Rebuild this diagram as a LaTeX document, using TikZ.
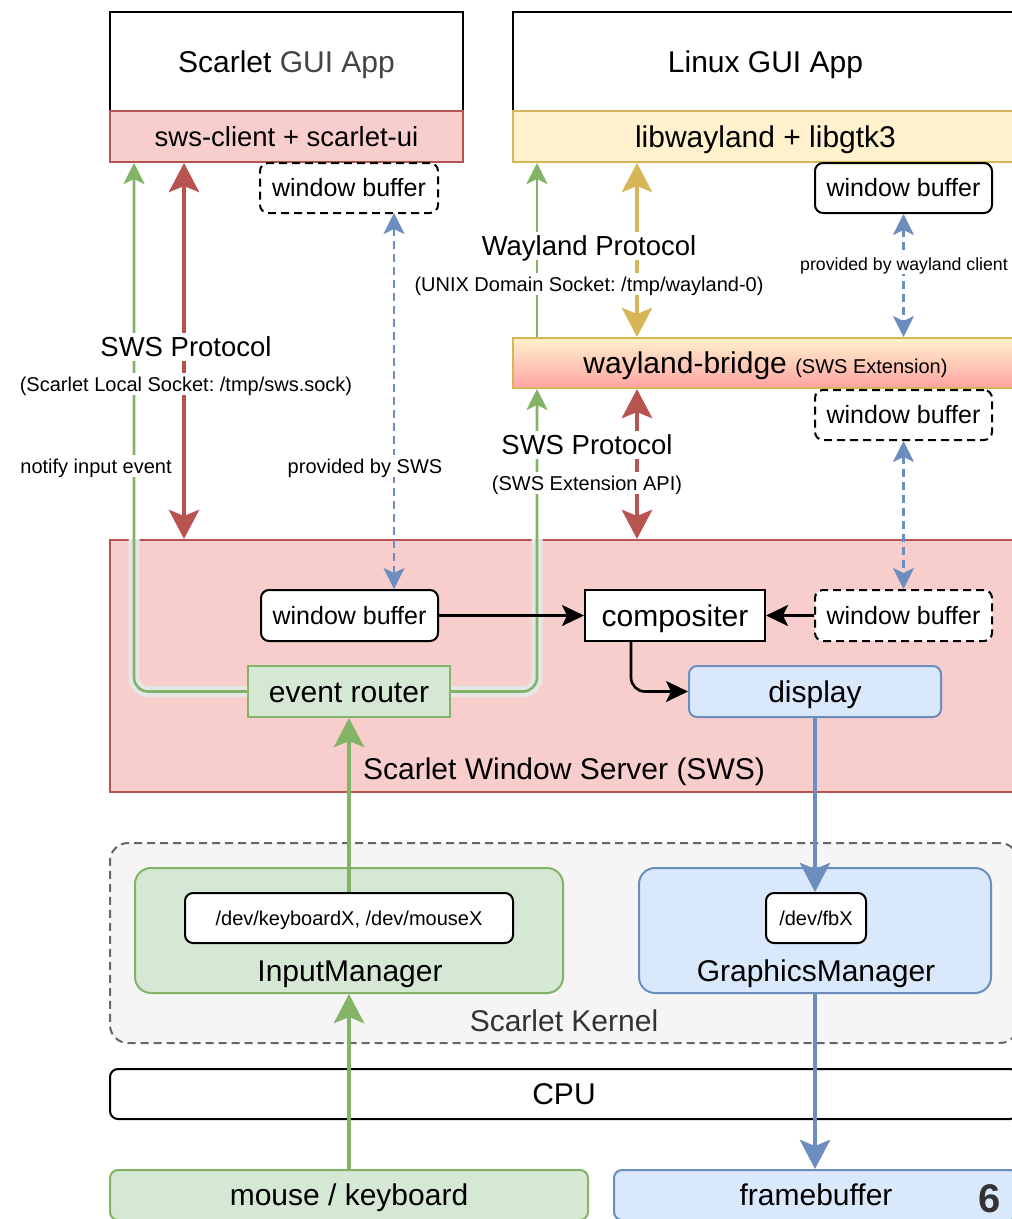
\documentclass[tikz,border=0pt]{standalone}
\usepackage{fontspec}
\setmainfont{Liberation Sans}
\frenchspacing
\usetikzlibrary{arrows.meta}
\definecolor{redF}{HTML}{F8CECC}
\definecolor{redS}{HTML}{B85450}
\definecolor{yelF}{HTML}{FFF2CC}
\definecolor{yelS}{HTML}{D6B656}
\definecolor{grnF}{HTML}{D5E8D4}
\definecolor{grnS}{HTML}{82B366}
\definecolor{bluF}{HTML}{DAE8FC}
\definecolor{bluS}{HTML}{6C8EBF}
\definecolor{gryF}{HTML}{F5F5F5}
\definecolor{gryS}{HTML}{666666}
\definecolor{gryT}{HTML}{333333}
\definecolor{gryA}{HTML}{444444}
\definecolor{pinkG}{HTML}{FFA3A3}
\definecolor{haloC}{HTML}{E6E6E6}
\tikzset{
  box/.style={draw, line width=2pt, inner sep=0pt, align=center},
  fsA/.style={font=\fontsize{30}{36}\selectfont, text height=21.5pt, text depth=0pt},
  fsB/.style={font=\fontsize{27.5}{33}\selectfont, text height=19.7pt, text depth=0pt},
  fsC/.style={font=\fontsize{25}{30}\selectfont, text height=17.9pt, text depth=0pt},
  fsD/.style={font=\fontsize{20}{24}\selectfont, text height=14.3pt, text depth=0pt},
  fsE/.style={font=\fontsize{17.7}{21}\selectfont, text height=12.7pt, text depth=0pt},
  wbuf/.style={box, fsC, rounded corners=8pt, fill=white, minimum width=177pt, minimum height=50pt},
  dashbox/.style={dash pattern=on 8pt off 5pt},
  lbl/.style={fill=white, inner xsep=2pt, inner ysep=4pt},
  tipS/.tip={Stealth[length=21pt,width=21pt,inset=5pt]},
  tipL/.tip={Stealth[length=29pt,width=30pt,inset=6pt]},
  tipK/.tip={Stealth[length=22pt,width=21pt,inset=5pt]},
  gthin/.style={draw=grnS, line width=2.6pt},
  halo/.style={draw=haloC, line width=11pt},
  thickR/.style={draw=redS, line width=4.8pt},
  thickY/.style={draw=yelS, line width=4.8pt},
  thickG/.style={draw=grnS, line width=4.8pt},
  thickB/.style={draw=bluS, line width=4.8pt},
  bdash/.style={draw=bluS, line width=2.4pt, dash pattern=on 8pt off 5pt},
  blk/.style={draw=black, line width=2.6pt},
}
\begin{document}
\begin{tikzpicture}[x=1pt,y=-1pt]
\useasboundingbox (0,0) rectangle (1012,1219);
\clip (0,0) rectangle (1012,1219);
\fill[white] (0,0) rectangle (1012,1219);

% ---- top applications
\node[box, fsA, fill=white, minimum width=353pt, minimum height=99pt] (app1) at (286.5,61.5) {Scarlet \textcolor{gryA}{GUI App}};
\node[box, fsB, fill=redF, draw=redS, minimum width=353pt, minimum height=51pt] (swsc) at (286.5,136.5) {sws-client + scarlet-ui};
\node[box, fsA, fill=white, minimum width=505pt, minimum height=99pt] (app2) at (765.5,61.5) {Linux GUI App};
\node[box, fsA, fill=yelF, draw=yelS, minimum width=505pt, minimum height=51pt] (lib) at (765.5,136.5) {libwayland + libgtk3};
\node[wbuf, dashbox, minimum width=178pt] (wbufA) at (349,188) {window buffer};
\node[wbuf] (wbufB) at (903.5,188) {window buffer};

% ---- wayland bridge
\node[box, fsA, top color=yelF, bottom color=pinkG, draw=yelS, minimum width=505pt, minimum height=50pt] (wb) at (765.5,363) {wayland-bridge {\fontsize{20}{24}\selectfont (SWS Extension)}};
\node[wbuf, dashbox] (wbufC) at (903.5,415) {window buffer};

% ---- SWS
\node[box, fill=redF, draw=redS, minimum width=908pt, minimum height=252pt] (sws) at (564,666) {};
\node[wbuf, minimum height=51pt] (wbufD) at (349.5,615.5) {window buffer};
\node[box, fsA, fill=white, minimum width=180pt, minimum height=51pt] (comp) at (675,615.5) {compositer};
\node[wbuf, dashbox, minimum height=51pt] (wbufE) at (903.5,615.5) {window buffer};
\node[box, fsA, fill=grnF, draw=grnS, minimum width=202pt, minimum height=51pt] (er) at (349,691.5) {event router};
\node[box, fsA, fill=bluF, draw=bluS, rounded corners=8pt, minimum width=252pt, minimum height=51pt] (disp) at (815,691.5) {display};
\node[fsA, inner sep=0pt] (swsT) at (564,769) {Scarlet Window Server (SWS)};

% ---- kernel
\node[box, draw=gryS, fill=gryF, dashbox, rounded corners=18pt, minimum width=908pt, minimum height=200pt] (kern) at (564,943) {};
\node[fsA, text=gryT, inner sep=0pt] (kernT) at (564,1021) {Scarlet Kernel};
\node[box, fill=grnF, draw=grnS, rounded corners=16pt, minimum width=428pt, minimum height=125pt] (im) at (349,930.5) {};
\node[fsA, inner sep=0pt] (imT) at (350,971) {InputManager};
\node[box, fsD, fill=white, rounded corners=8pt, minimum width=328pt, minimum height=50pt] (kbd) at (349,918) {/dev/keyboardX, /dev/mouseX};
\node[box, fill=bluF, draw=bluS, rounded corners=16pt, minimum width=352pt, minimum height=125pt] (gm) at (815,930.5) {};
\node[fsA, inner sep=0pt] (gmT) at (816,971) {GraphicsManager};
\node[box, fsD, fill=white, rounded corners=8pt, minimum width=100pt, minimum height=50pt] (fbx) at (816,918) {/dev/fbX};

% ---- hardware
\node[box, fsA, fill=white, rounded corners=8pt, minimum width=908pt, minimum height=50pt] (cpu) at (564,1094) {CPU};
\node[box, fsA, fill=grnF, draw=grnS, rounded corners=8pt, minimum width=478pt, minimum height=50pt] (mk) at (349,1195) {mouse / keyboard};
\node[box, fsA, fill=bluF, draw=bluS, rounded corners=8pt, minimum width=404pt, minimum height=50pt] (fbuf) at (816,1195) {framebuffer};

% ---- coordinates
\coordinate (gL) at ([xshift=25pt]swsc.south west);
\coordinate (gR) at ([xshift=25pt]wb.south west);
\coordinate (gT) at ([xshift=25pt]lib.south west);
\coordinate (rL) at ([xshift=75pt]swsc.south west);
\coordinate (rR) at ([xshift=125pt]wb.south west);
\coordinate (yT) at ([xshift=125pt]lib.south west);
\coordinate (bL) at (394,213);
\coordinate (cS) at (631,641);

% ---- halos
\draw[halo, rounded corners=14pt] (gL |- sws.north) |- (er.west);
\draw[halo, rounded corners=14pt] (gR |- sws.north) |- (er.east);

% ---- connectors
\draw[gthin, rounded corners=14pt, {tipS}-] (gL) |- (er.west);
\draw[gthin, rounded corners=14pt, {tipS}-] (gR) |- (er.east);
\draw[gthin, {tipS}-] (gT) -- (gT |- wb.north);
\draw[thickR, {tipL}-{tipL}] (rL) -- (rL |- sws.north);
\draw[thickR, {tipL}-{tipL}] (rR) -- (rR |- sws.north);
\draw[thickY, {tipL}-{tipL}] (yT) -- (yT |- wb.north);
\draw[bdash, {tipS}-{tipS}] (bL) -- (bL |- wbufD.north);
\draw[bdash, {tipS}-{tipS}] (wbufB.south) -- (wbufB.south |- wb.north);
\draw[bdash, {tipS}-{tipS}] (wbufC.south) -- (wbufC.south |- wbufE.north);
\draw[blk, -{tipK}] (wbufD.east) -- (comp.west);
\draw[blk, -{tipK}] (wbufE.west) -- (comp.east);
\draw[blk, rounded corners=14pt, -{tipK}] (cS) |- (disp.west);
\draw[thickG, -{tipL}] (kbd.north) -- (er.south);
\draw[thickG, -{tipL}] (mk.north) -- (im.south);
\draw[thickB, -{tipL}] (disp.south) -- (disp.south |- fbx.north);
\draw[thickB, -{tipL}] (gm.south) -- (gm.south |- fbuf.north);

% ---- labels
\node[lbl, fsB] (lSWS1) at (186,347) {SWS Protocol};
\node[lbl, fsD] (lSock) at (186,384) {(Scarlet Local Socket: /tmp/sws.sock)};
\node[lbl, fsD] (lNotify) at (96,466) {notify input event};
\node[lbl, fsD] (lProvS) at (365,466) {provided by SWS};
\node[lbl, fsB] (lWay) at (589,246) {Wayland Protocol};
\node[lbl, fsD] (lUnix) at (589,284) {(UNIX Domain Socket: /tmp/wayland-0)};
\node[lbl, fsE] (lProvW) at (904,264) {provided by wayland client};
\node[lbl, fsB] (lSWS2) at (587,445) {SWS Protocol};
\node[lbl, fsD] (lExt) at (587,483) {(SWS Extension API)};

\node[font=\bfseries\fontsize{40}{40}\selectfont, text=gryT, anchor=base west, inner sep=0pt] (pg) at (978,1212) {6};
\end{tikzpicture}
\end{document}
